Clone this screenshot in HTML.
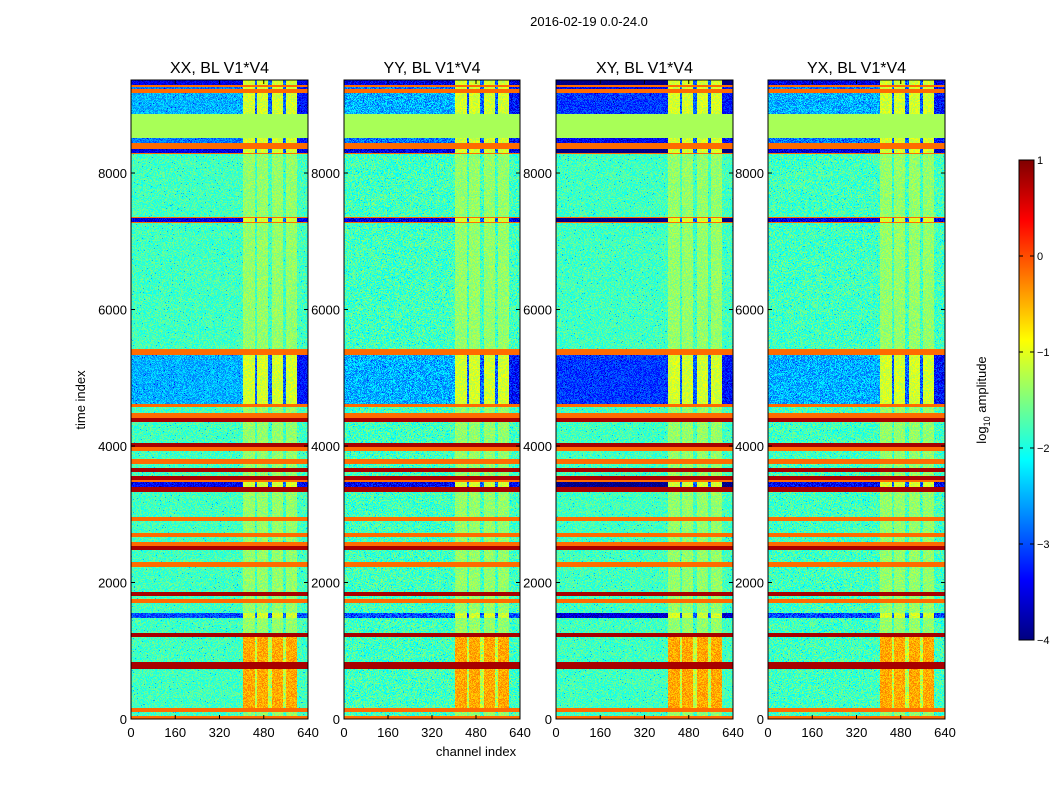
<!DOCTYPE html>
<html><head><meta charset="utf-8">
<style>
body{margin:0;background:#fff;}
#wrap{position:relative;width:1050px;height:800px;overflow:hidden;background:#fff;font-family:"Liberation Sans",sans-serif;}
canvas{position:absolute;image-rendering:pixelated;}
svg{position:absolute;left:0;top:0;}
</style></head>
<body>
<div id="wrap">
<canvas id="c0" width="177" height="639" style="left:131px;top:80px"></canvas>
<canvas id="c1" width="176" height="639" style="left:344px;top:80px"></canvas>
<canvas id="c2" width="177" height="639" style="left:556px;top:80px"></canvas>
<canvas id="c3" width="177" height="639" style="left:768px;top:80px"></canvas>
<canvas id="cb" width="15" height="480" style="left:1019px;top:160px"></canvas>
<svg id="ax" width="1050" height="800"></svg>
</div>
<script>
// time bands: start, end, value (log10 amplitude), kind (0 const, 1 green noise, 2 blue noise, 3 dark blue, 4 green hot)
const bandStart=[0,44,103,161,733,835,1201,1260,1480,1553,1700,1758,1802,1861,2227,2300,2476,2535,2593,2667,2725,2901,2960,3326,3399,3473,3502,3561,3619,3678,3736,3810,3927,3985,4044,4352,4410,4484,4571,4615,5333,5421,7267,7282,7341,7355,8278,8293,8352,8440,8513,8864,9172,9231,9260,9290];
const bandEnd=[44,103,161,733,835,1201,1260,1480,1553,1700,1758,1802,1861,2227,2300,2476,2535,2593,2667,2725,2901,2960,3326,3399,3473,3502,3561,3619,3678,3736,3810,3927,3985,4044,4352,4410,4484,4571,4615,5333,5421,7267,7282,7341,7355,8278,8293,8352,8440,8513,8864,9172,9231,9260,9290,9363];
const bandValue=[-0.15,-1.8,-0.15,-1.8,0.8,-1.8,0.8,-1.8,-3.0,-1.8,-0.15,-1.8,0.8,-1.8,-0.15,-1.8,0.8,-0.15,-1.8,-0.15,-1.8,-0.15,-1.8,0.8,-3.4,-0.15,0.8,-1.8,0.8,-1.8,-0.15,-1.8,-0.15,0.8,-1.8,0.8,-0.15,-1.8,-0.15,-2.5,-0.15,-1.8,-0.15,-3.5,-0.15,-1.8,-0.15,-3.5,-0.15,-2.8,-1.3,-2.5,-0.15,-2.8,-0.15,-3.5];
const bandKind=[0,1,0,4,0,4,0,1,3,1,0,1,0,1,0,1,0,0,1,0,1,0,1,0,3,0,0,1,0,1,0,1,0,0,1,0,0,1,0,2,0,1,0,3,0,1,0,3,0,2,0,2,0,2,0,3];
// channel feature stripes
const featStart=[405,455,510,560];
const featEnd=[448,495,550,600];
const panelTitles=["XX, BL V1*V4","YY, BL V1*V4","XY, BL V1*V4","YX, BL V1*V4"];
const panelBlueShift=[0,0,-0.6,0];
const panelNoise=[0.3,0.4,0.3,0.38];
const xTicks=[0,160,320,480,640];
const yTicks=[0,2000,4000,6000,8000];
const cbTicks=[1,0,-1,-2,-3,-4];
const cbTickLabels=["1","0","\u22121","\u22122","\u22123","\u22124"];
const T_MAX=9363, CH_MAX=640, VMIN=-4, VMAX=1;

function jet(v){let t=(v-VMIN)/(VMAX-VMIN);t=Math.max(0,Math.min(1,t));
 const f=x=>Math.max(0,Math.min(1,1.5-Math.abs(4*t-x)));
 return [f(3)*255,f(2)*255,f(1)*255];}
function hash(a,b,c){let h=(a*374761393+b*668265263+c*2147483647)|0;h=(h^(h>>>13))*1274126177|0;return ((h^(h>>>16))>>>0)/4294967296;}
function lookup(t){for(let i=0;i<bandStart.length;i++){if(t>=bandStart[i]&&t<bandEnd[i])return i;}return bandStart.length-1;}
function feat(ch){for(let i=0;i<featStart.length;i++){if(ch>=featStart[i]&&ch<featEnd[i])return 1;}if(ch>=featStart[0]&&ch<featEnd[featEnd.length-1])return -1;if(ch>=featEnd[featEnd.length-1])return -2;return 0;}

for(let p=0;p<4;p++){
 const cv=document.getElementById('c'+p),ctx=cv.getContext('2d');
 const W=cv.width,H=cv.height,img=ctx.createImageData(W,H);
 for(let y=0;y<H;y++){
  const t=T_MAX*(1-(y+0.5)/H);const bi=lookup(t);const k=bandKind[bi];
  for(let x=0;x<W;x++){
   const ch=CH_MAX*(x+0.5)/W;let v=bandValue[bi];
   const r=hash(x,y,p+1);
   if(k>0){
    if(k===2||k===3)v+=panelBlueShift[p];
    const f=feat(ch);
    let amp=panelNoise[p];
    if(f===1){v=(k===4?-0.45:(k===1?-1.4:-1.1));amp=0.22;}
    else if(f===-1&&(k===2||k===3))v=-2.9;
    else if(f===-1&&k===4)v=-1.2;
    else if(f===-2&&k===2)v=-3.3;
    v+=(r-0.5)*amp*2;
    if(r>0.988&&f!==1)v-=1.0;
   }
   const c=jet(v),o=(y*W+x)*4;img.data[o]=c[0];img.data[o+1]=c[1];img.data[o+2]=c[2];img.data[o+3]=255;
  }
 }
 ctx.putImageData(img,0,0);
}
(function(){const cv=document.getElementById('cb'),ctx=cv.getContext('2d');
 for(let y=0;y<cv.height;y++){const v=VMAX-(VMAX-VMIN)*(y+0.5)/cv.height;const c=jet(v);ctx.fillStyle=`rgb(${c[0]|0},${c[1]|0},${c[2]|0})`;ctx.fillRect(0,y,cv.width,1);}})();

const svg=document.getElementById('ax');const NS='http://www.w3.org/2000/svg';
function el(tag,attrs,txt){const e=document.createElementNS(NS,tag);for(const k in attrs)e.setAttribute(k,attrs[k]);if(txt!==undefined)e.textContent=txt;svg.appendChild(e);return e;}
const panelLeft=[131,344,556,768],panelRight=[308,520,733,945],TOP=80,BOT=719;
const yScale=t=>BOT-(BOT-TOP)*t/T_MAX;
const names=['xx','yy','xy','yx'];
for(let p=0;p<4;p++){
 const L=panelLeft[p],R=panelRight[p];const xs=c=>L+(R-L)*c/CH_MAX;
 const fr=el('rect',{x:L,y:TOP,width:R-L,height:BOT-TOP,fill:'none',stroke:'#000','stroke-width':1});
 
 const tt=el('text',{x:(L+R)/2,y:73,'text-anchor':'middle','font-size':16,fill:'#000'},panelTitles[p]);
 
 xTicks.forEach(v=>{const x=xs(v);
  el('line',{x1:x,y1:BOT,x2:x,y2:BOT-4,stroke:'#000'});el('line',{x1:x,y1:TOP,x2:x,y2:TOP+4,stroke:'#000'});
  const t=el('text',{x:x,y:737,'text-anchor':'middle','font-size':13,fill:'#000'},String(v));
  });
 yTicks.forEach(v=>{const y=yScale(v);
  el('line',{x1:L,y1:y,x2:L+4,y2:y,stroke:'#000'});el('line',{x1:R,y1:y,x2:R-4,y2:y,stroke:'#000'});
  const t=el('text',{x:L-4,y:y+5,'text-anchor':'end','font-size':13,fill:'#000'},String(v));
  });
}
let e;
e=el('text',{x:589,y:26,'text-anchor':'middle','font-size':13,fill:'#000'},'2016-02-19 0.0-24.0');

e=el('text',{x:476,y:756,'text-anchor':'middle','font-size':13,fill:'#000'},'channel index');

e=el('text',{x:85,y:400,'text-anchor':'middle','font-size':13,fill:'#000',transform:'rotate(-90 85 400)'},'time index');

e=el('rect',{x:1019,y:160,width:15,height:480,fill:'none',stroke:'#000'});

cbTicks.forEach((v,i)=>{const y=160+480*(VMAX-v)/(VMAX-VMIN);
 el('line',{x1:1019,y1:y,x2:1023,y2:y,stroke:'#000'});el('line',{x1:1034,y1:y,x2:1030,y2:y,stroke:'#000'});
 const t=el('text',{x:1037,y:y+4,'font-size':11,fill:'#000'},cbTickLabels[i]);
 });
e=el('text',{x:986,y:400,'text-anchor':'middle','font-size':13,fill:'#000',transform:'rotate(-90 986 400)'});

e.innerHTML='log<tspan font-size="9" dy="4">10</tspan><tspan dy="-4"> amplitude</tspan>';
</script>
</body></html>
